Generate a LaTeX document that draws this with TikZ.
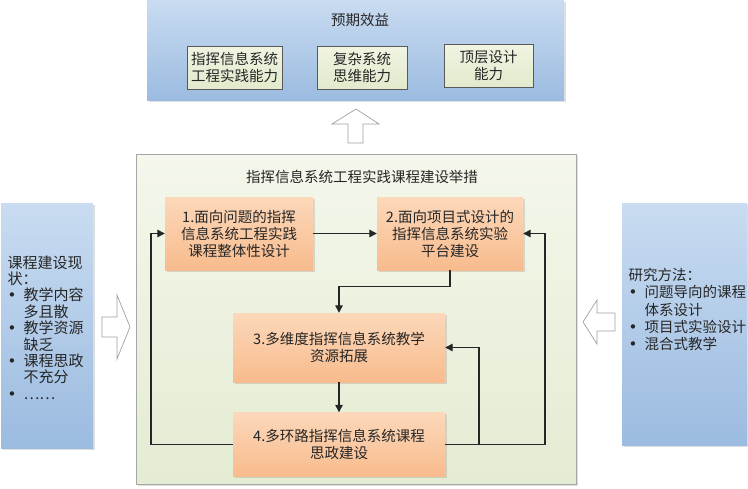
\documentclass[tikz,border=0pt]{standalone}
\usepackage{fontspec}
\setmainfont{Noto Sans CJK SC}
\newfontfamily\dejavu{DejaVu Sans}
\usetikzlibrary{arrows.meta,shadows}
\definecolor{txt}{HTML}{262626}
\definecolor{bluetop}{HTML}{C9DCF1}
\definecolor{bluebot}{HTML}{9BBBE0}
\definecolor{greentop}{HTML}{F0F4E2}
\definecolor{greenbot}{HTML}{E2EACC}
\definecolor{maintop}{HTML}{F4F7EB}
\definecolor{mainbot}{HTML}{E4ECD3}
\definecolor{orangetop}{HTML}{FCD8BA}
\definecolor{orangebot}{HTML}{F8BB8D}
\definecolor{arrowgray}{HTML}{A0A0A0}
\newcommand{\bul}{\makebox[16pt][l]{\hspace{0pt}{\dejavu\fontsize{15}{15}\selectfont •}}}
\newcommand{\ind}{\hspace*{16pt}}
\begin{document}
\begin{tikzpicture}[x=1pt,y=-1pt,
  every node/.style={text=txt, font=\fontsize{14.5}{17}\selectfont},
  panel/.style={inner sep=0pt, draw=none, top color=bluetop, bottom color=bluebot,
    drop shadow={shadow xshift=1.5pt,shadow yshift=-1.5pt,opacity=0.25}},
  greenbox/.style={inner sep=0pt, draw=black!65, line width=0.8pt, top color=greentop,
    bottom color=greenbot, align=center,
    drop shadow={shadow xshift=1pt,shadow yshift=-1pt,opacity=0.2}},
  mainpanel/.style={inner sep=0pt, draw=black!35, line width=0.8pt, top color=maintop,
    bottom color=mainbot,
    drop shadow={shadow xshift=1.5pt,shadow yshift=-1.5pt,opacity=0.25}},
  orangebox/.style={inner sep=0pt, draw=none, top color=orangetop, bottom color=orangebot,
    align=center, drop shadow={shadow xshift=1.5pt,shadow yshift=-1.5pt,opacity=0.25}},
  blockarrow/.style={draw=arrowgray, fill=white, line width=0.7pt, line join=miter},
  conn/.style={draw=txt, line width=1.3pt, -{Triangle[length=7.5pt,width=7.5pt]}}]
\useasboundingbox (0,0) rectangle (748,488);

% top panel
\node[panel, minimum width=417pt, minimum height=100pt] (top) at (355.5,50) {};
\node (toptitle) at (360,20) {预期效益};
\node[greenbox, minimum width=95pt, minimum height=43pt] (t1) at (234.5,67.5) {指挥信息系统\\工程实践能力};
\node[greenbox, minimum width=90pt, minimum height=43pt] (t2) at (362,67.5) {复杂系统\\思维能力};
\node[greenbox, minimum width=89pt, minimum height=43pt] (t3) at (488.5,65.5) {顶层设计\\能力};

% up arrow
\draw[blockarrow] (348,143) -- (348,124) -- (332,124) -- (356,109) -- (379,124) -- (363,124) -- (363,143) -- cycle;

% main panel
\node[mainpanel, minimum width=440pt, minimum height=330pt] (main) at (356,319) {};
\node (maintitle) at (362,177) {指挥信息系统工程实践课程建设举措};

\node[orangebox, minimum width=148pt, minimum height=73pt] (b1) at (239,233.5) {1.面向问题的指挥\\信息系统工程实践\\课程整体性设计};
\node[orangebox, minimum width=146pt, minimum height=73pt] (b2) at (450,233.5) {2.面向项目式设计的\\指挥信息系统实验\\平台建设};
\node[orangebox, minimum width=212pt, minimum height=69pt] (b3) at (339,347.5) {3.多维度指挥信息系统教学\\资源拓展};
\node[orangebox, minimum width=212pt, minimum height=64pt] (b4) at (339,444.5) {4.多环路指挥信息系统课程\\思政建设};

\coordinate (lx) at (151,0);
\coordinate (rx) at (545,0);
\coordinate (mx) at (479,0);

\draw[conn] (b1.east) -- (b2.west);
\draw[conn] (b2.south) -- ++(0,16) -| (b3.north);
\draw[conn] (b3.south) -- (b4.north);
\draw[conn] (b4.west) -- (b4.west -| lx) |- (b1.west);
\draw[conn] (b4.east) -- (b4.east -| rx) |- (b2.east);
\draw[conn] (b4.east -| mx) |- (b3.east);

% left panel
\node[panel, minimum width=92pt, minimum height=245pt] (left) at (47,325.5) {};
\node[anchor=west, align=left, font=\fontsize{15}{16.4}\selectfont] (lefttext) at (4,327.5)
 {课程建设现\\状：\\\bul 教学内容\\\ind 多且散\\\bul 教学资源\\\ind 缺乏\\\bul 课程思政\\\ind 不充分\\\bul ……};

% right panel
\node[panel, minimum width=125pt, minimum height=242pt] (right) at (684.5,324) {};
\node[anchor=west, align=left, font=\fontsize{14.5}{17.2}\selectfont] (righttext) at (625,309.5)
 {研究方法：\\\bul 问题导向的课程\\\ind 体系设计\\\bul 项目式实验设计\\\bul 混合式教学};

% left arrow
\draw[blockarrow] (102,317) -- (117,317) -- (117,295) -- (130,327) -- (117,359) -- (117,337) -- (102,337) -- cycle;
% right arrow
\draw[blockarrow] (615,313) -- (597,313) -- (597,300) -- (583,322) -- (597,344) -- (597,331) -- (615,331) -- cycle;
\end{tikzpicture}
\end{document}
